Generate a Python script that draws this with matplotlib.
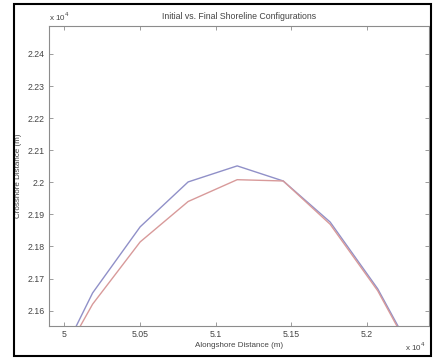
import matplotlib
matplotlib.use("Agg")
import matplotlib.pyplot as plt
from matplotlib.patches import Rectangle
from matplotlib.ticker import FuncFormatter

# shoreline positions (m)
along = [49874, 50188, 50502, 50819, 51143, 51447, 51757, 52071, 52385]
initial = [21355, 21655, 21861, 22001, 22051, 22004, 21876, 21668, 21396]
final = [21356, 21620, 21814, 21940, 22008, 22004, 21869, 21662, 21390]

xticks = [50000, 50500, 51000, 51500, 52000]
yticks = [21600, 21700, 21800, 21900, 22000, 22100, 22200, 22300, 22400]

plt.rcParams["font.family"] = ["Liberation Sans", "DejaVu Sans"]
txt = "#444444"
edge = "#8c8c8c"

fig = plt.figure(figsize=(4.39, 3.58), dpi=100)
ax = fig.add_axes([49/439, 32/358, 380/439, 300/358])

ax.plot(along, initial, color="#9090c8", lw=1.0)
ax.plot(along, final, color="#d89a9a", lw=1.0)

ax.set_xlim(49900, 52410)
ax.set_ylim(21552, 22487)
ax.set_xticks(xticks)
ax.set_yticks(yticks)
fmt = FuncFormatter(lambda v, p: f"{v/1e4:g}")
ax.xaxis.set_major_formatter(fmt)
ax.yaxis.set_major_formatter(fmt)
ax.tick_params(direction="in", top=True, right=True, length=3, width=0.6,
               color=edge, labelcolor=txt, labelsize=6.3, pad=3)
for s in ax.spines.values():
    s.set_color(edge)
    s.set_linewidth(0.8)

ax.set_title("Initial vs. Final Shoreline Configurations", fontsize=6.3, color=txt, pad=5)
ax.set_xlabel("Alongshore Distance (m)", fontsize=5.8, color=txt, labelpad=2)
ax.set_ylabel("Crosshore Distance (m)", fontsize=5.8, color=txt)
ax.yaxis.set_label_coords(-0.072, 0.5)

ax.text(0, 1.01, r"x 10$^4$", transform=ax.transAxes, fontsize=5.8, color=txt,
        ha="left", va="bottom")
ax.text(0.99, -0.068, r"x 10$^4$", transform=ax.transAxes, fontsize=5.8, color=txt,
        ha="right", va="center")

# outer frame around the picture
fig.patches.append(Rectangle((14/439, 2/358), 417/439, 352/358, transform=fig.transFigure,
                             fill=False, edgecolor="black", lw=1.5))

fig.savefig("out.png", dpi=100)
